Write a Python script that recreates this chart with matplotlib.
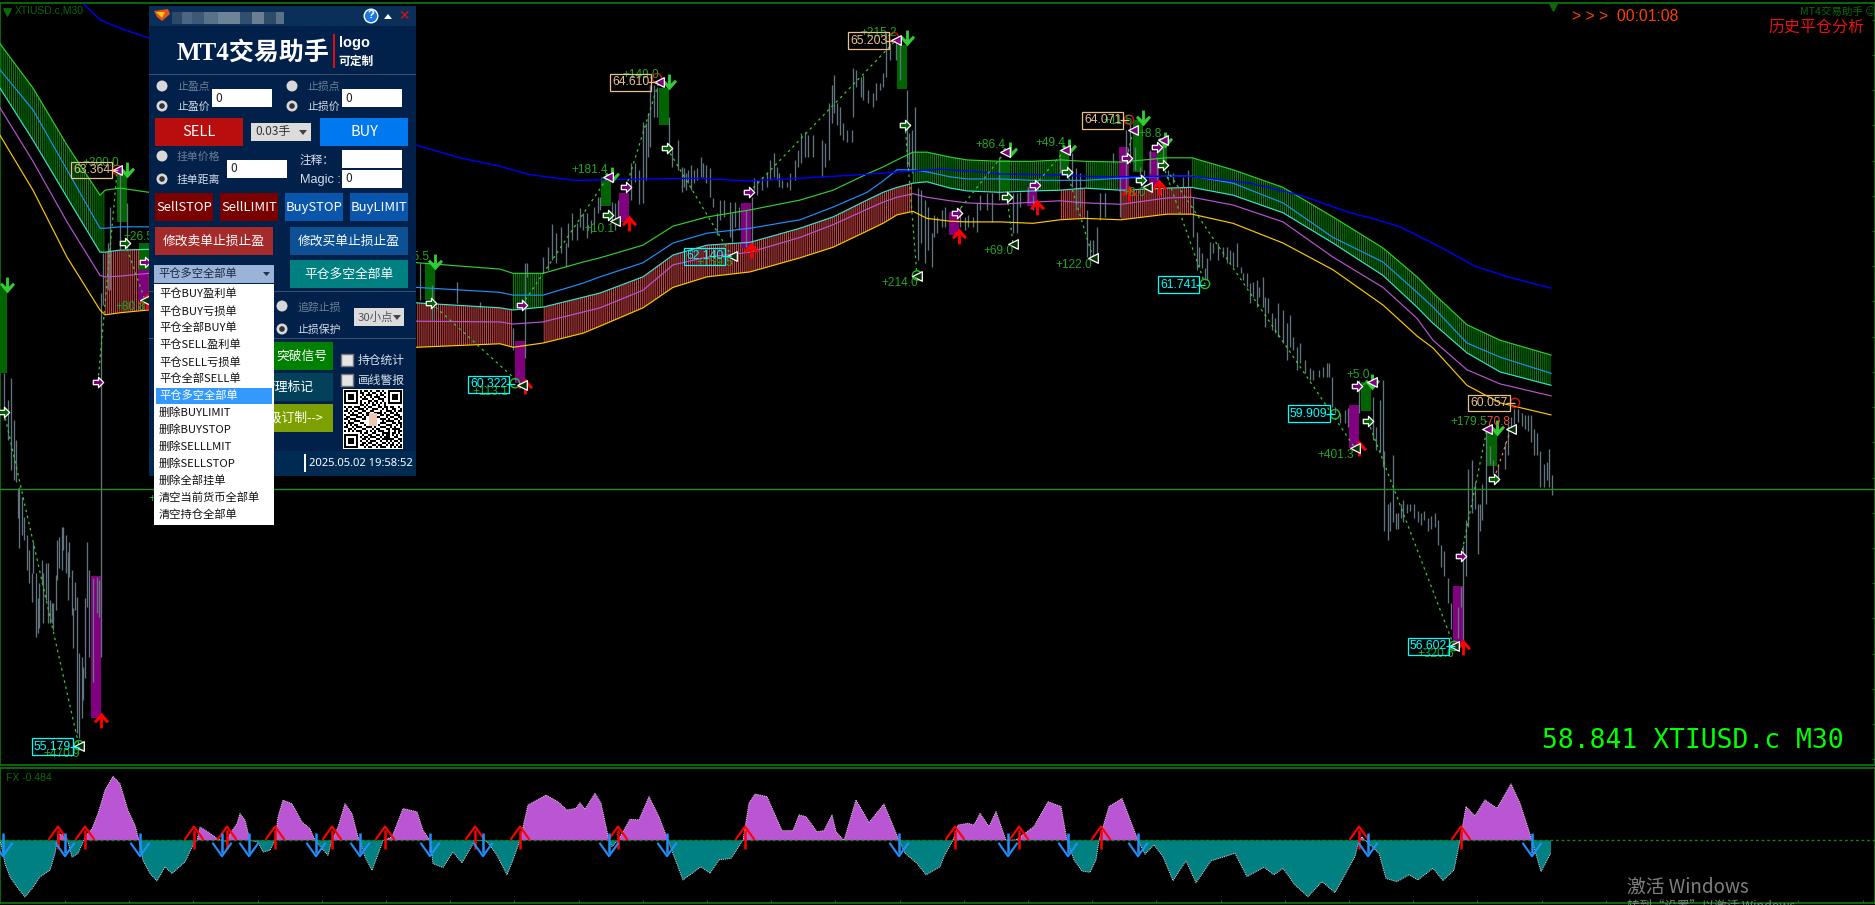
import numpy as np
import matplotlib
matplotlib.use("Agg")
import matplotlib.pyplot as plt
from matplotlib.patches import Rectangle, Circle, Polygon
from matplotlib.path import Path

plt.rcParams['font.family'] = ['Noto Sans CJK SC', 'DejaVu Sans']
plt.rcParams['hatch.linewidth'] = 0.8

# ---------- price bars (time scale = chart columns) ----------
bar_time = [4,8,11,14,16,18,19,22,24,27,
            29,32,33,36,38,39,42,43,46,48,
            50,52,53,56,57,59,62,63,66,68,
            69,72,73,75,77,79,82,83,85,87,
            89,93,97,99,101,103,108,110,120,127,
            420,432,457,480,513,525,527,
            543,548,552,556,561,566,568,572,577,580,
            583,587,591,594,598,600,612,615,618,631,
            635,639,643,646,648,650,654,657,669,672,
            678,682,684,686,688,691,694,697,701,703,
            706,710,713,717,720,724,730,732,735,739,
            746,752,754,757,762,767,770,774,777,779,
            782,787,790,795,798,801,805,808,813,822,
            825,829,832,834,837,840,843,847,852,853,
            856,861,863,868,873,876,880,883,886,890,
            896,900,907,909,912,915,918,921,925,928,
            932,934,937,942,945,960,965,968,973,977,
            980,987,992,999,1013,1017,1020,1028,1033,1060,
            1072,1076,1080,1087,1090,1093,1097,1100,1105,1113,
            1120,1126,1130,1135,1140,1144,1150,1157,1163,1168,
            1173,1183,1188,1193,1197,1199,1202,1205,1207,1210,
            1213,1218,1223,1227,1230,1233,1237,1241,1243,1247,
            1250,1253,1257,1259,1263,1265,1268,1272,1275,1278,
            1283,1287,1290,1293,1297,1300,1305,1310,1313,1319,
            1323,1327,1329,1332,1335,1340,1345,1348,1359,1373,
            1376,1380,1383,1384,1388,1390,1393,1396,1398,1401,
            1403,1407,1410,1414,1418,1421,1424,1428,1431,1435,
            1438,1441,1444,1448,1451,1458,1461,1463,1466,1468,
            1472,1475,1478,1480,1482,1486,1490,1493,1498,1505,
            1508,1511,1514,1518,1522,1525,1528,1531,1534,1537,
            1540,1544,1547,1549,1552]
bar_high = [60.48,60.10,60.41,59.82,59.53,58.85,58.86,58.72,58.44,58.18,
            57.97,57.64,58.08,57.64,57.29,57.50,57.83,57.64,57.79,57.78,
            57.26,57.22,57.22,57.62,58.11,58.15,58.30,58.30,58.18,57.94,
            58.08,57.69,57.15,57.52,57.30,56.51,56.45,56.31,57.29,58.08,
            57.69,57.57,57.59,57.54,61.62,62.19,62.33,62.84,63.34,62.90,
            62.05,61.73,61.78,61.49,61.12,62.05,62.05,
            62.13,62.27,62.60,62.47,62.56,62.33,62.61,62.76,62.61,62.83,
            62.76,62.76,62.66,62.84,62.98,62.98,62.91,62.90,62.94,63.47,
            63.47,63.37,64.05,64.03,64.18,64.57,64.57,64.54,64.12,63.69,
            63.79,63.41,63.39,63.32,63.37,63.44,63.37,63.39,63.55,63.47,
            63.44,63.39,62.97,62.76,62.94,62.94,62.91,62.76,62.91,62.84,
            62.80,62.98,63.25,63.22,63.27,63.32,63.51,63.61,63.41,63.32,
            63.22,63.20,63.32,63.51,63.65,63.89,63.91,63.86,63.86,63.79,
            63.75,64.32,64.57,64.72,64.32,64.26,64.03,63.93,63.93,64.81,
            64.79,64.69,64.72,64.50,64.46,64.60,64.60,64.74,65.31,65.17,
            65.17,65.17,64.50,63.89,63.93,64.26,63.11,63.08,62.94,62.84,
            62.47,62.73,62.70,62.80,62.84,62.84,62.70,62.73,62.70,62.90,
            63.01,63.04,63.04,63.55,63.04,63.04,63.05,63.12,63.01,63.55,
            63.61,63.39,63.32,62.80,62.37,62.37,62.56,63.04,63.04,63.61,
            63.27,63.93,64.03,63.69,63.41,63.37,63.65,63.55,63.72,63.37,
            63.32,63.27,63.37,62.98,62.49,62.27,62.19,61.97,62.12,62.34,
            62.33,62.33,62.27,62.27,62.23,62.20,62.33,61.99,61.90,61.90,
            61.76,61.78,61.80,61.70,61.85,61.56,61.55,61.34,61.26,61.48,
            61.38,61.19,61.31,61.00,60.85,60.91,60.67,60.55,60.53,60.53,
            60.57,60.63,60.63,60.43,60.00,59.92,59.96,59.99,60.38,60.14,
            59.72,60.10,60.38,59.38,58.62,58.65,59.32,58.50,58.50,58.62,
            58.68,58.62,58.62,58.62,58.52,58.50,58.52,58.42,58.45,58.50,
            58.40,58.04,57.96,57.57,57.22,57.16,57.45,58.04,58.40,59.12,
            59.25,58.94,58.62,58.62,58.91,59.69,59.45,59.25,59.19,59.50,
            59.76,59.86,59.97,59.97,59.92,59.89,59.89,59.89,59.69,59.63,
            59.38,59.19,59.22,59.40,59.03]
bar_low = [59.82,59.53,59.11,58.96,58.94,58.42,58.00,58.18,58.11,57.69,
           57.50,57.23,57.64,56.73,56.79,56.86,57.50,56.93,57.26,56.93,
           56.93,56.93,56.83,57.12,57.54,57.71,57.69,57.97,57.64,57.26,
           57.59,57.05,56.58,57.12,55.37,55.30,55.58,55.84,56.15,57.16,
           56.45,56.10,57.08,57.02,56.45,61.45,61.66,61.66,62.23,62.26,
           61.52,61.24,61.48,61.41,60.81,60.70,61.85,
           61.90,61.95,62.09,62.05,62.19,61.99,62.27,62.37,62.37,62.56,
           62.51,62.40,62.47,62.61,62.76,62.80,62.66,62.51,62.66,62.94,
           63.20,62.88,62.90,63.22,63.55,63.69,64.12,64.12,63.68,63.41,
           63.37,63.05,63.12,63.08,63.18,63.08,63.18,63.22,63.27,63.27,
           63.18,62.98,62.84,62.44,62.66,62.70,62.41,62.34,62.56,62.51,
           62.27,62.26,63.08,63.01,63.08,63.12,63.22,63.27,63.22,63.12,
           63.11,63.12,63.08,63.22,63.41,63.47,63.55,63.55,63.55,63.27,
           63.41,63.51,64.03,64.18,64.01,63.86,63.79,63.76,63.76,64.12,
           64.54,64.40,64.36,64.32,64.26,64.36,64.50,64.54,64.69,64.93,
           64.93,64.64,63.41,63.41,63.32,63.37,62.09,62.33,62.05,62.23,
           61.99,62.41,62.47,62.56,62.56,62.56,62.51,62.56,62.56,62.49,
           62.80,62.80,62.63,62.94,62.47,62.47,62.84,62.90,62.80,63.32,
           63.12,62.80,62.84,62.13,62.13,62.13,62.13,62.66,62.70,63.47,
           62.70,63.04,63.47,63.37,63.18,63.18,63.32,63.22,63.51,63.22,
           63.18,63.12,63.12,62.41,61.95,61.99,61.97,61.80,61.80,62.09,
           62.19,62.09,62.13,62.05,62.05,61.99,61.99,61.90,61.80,61.70,
           61.48,61.56,61.42,61.56,61.42,61.14,61.34,61.09,61.05,61.00,
           60.91,60.67,60.85,60.81,60.53,60.63,60.48,60.38,60.38,60.43,
           60.43,60.43,60.43,60.00,59.92,59.77,59.77,59.72,59.92,59.53,
           59.39,59.36,59.15,58.24,58.11,58.24,58.37,58.27,58.27,58.42,
           58.37,58.50,58.52,58.42,58.37,58.33,58.40,58.24,58.27,58.30,
           58.04,57.73,57.60,57.22,56.85,56.72,57.16,56.65,57.60,58.30,
           58.50,58.55,57.91,58.24,58.40,58.62,59.19,59.05,58.94,59.12,
           59.32,59.69,59.76,59.79,59.73,59.69,59.66,59.50,59.32,59.32,
           58.86,58.86,58.96,58.86,58.75]

# ---------- moving-average ribbon ----------
ma_time = [0,33,67,100,105,120,149,417,500,513,543,583,600,643,673,707,750,800,833,867,883,
           897,913,927,950,967,1000,1033,1060,1085,1121,1167,1192,1233,1283,1333,1383,1417,1433,1467,1500,1551]
ma_green = [65.16,64.53,63.72,63.01,63.08,63.11,63.05,62.05,61.96,61.90,61.90,62.06,62.12,62.30,62.57,62.70,62.80,62.94,63.08,63.31,63.41,
            63.51,63.62,63.62,63.55,63.51,63.49,63.49,63.51,63.49,63.48,63.54,63.54,63.37,63.12,62.70,62.26,61.85,61.62,61.17,60.95,60.74]
ma_azure = [64.79,64.22,63.37,62.54,62.54,62.56,62.56,61.70,61.63,61.59,61.59,61.76,61.85,62.05,62.33,62.47,62.54,62.66,62.84,63.05,63.21,
            63.37,63.37,63.34,63.27,63.24,63.24,63.22,63.22,63.22,63.25,63.28,63.28,63.18,62.90,62.41,62.06,61.63,61.42,60.91,60.71,60.48]
ma_cyan = [64.53,63.79,62.98,62.20,62.20,62.23,62.24,61.48,61.41,61.38,61.42,61.56,61.62,61.85,62.16,62.30,62.34,62.54,62.70,62.94,63.05,
           63.12,63.18,63.20,63.11,63.07,63.05,63.07,63.08,63.11,63.08,63.11,63.12,63.01,62.76,62.33,61.87,61.42,61.19,60.77,60.50,60.31]
ma_violet = [64.25,63.49,62.63,61.87,61.85,61.86,61.90,61.22,61.21,61.18,61.21,61.35,61.41,61.66,62.02,62.13,62.20,62.41,62.59,62.81,62.91,
             62.98,63.03,62.98,62.93,62.90,62.88,62.91,62.93,62.90,62.88,62.97,62.98,62.87,62.63,62.13,61.70,61.26,60.95,60.53,60.33,60.16]
ma_gold = [63.86,63.08,62.13,61.38,61.31,61.34,61.38,60.85,60.90,60.85,60.91,61.05,61.15,61.41,61.70,61.85,61.92,62.12,62.27,62.50,62.61,
           62.73,62.78,62.68,62.64,62.63,62.63,62.61,62.66,62.68,62.66,62.74,62.74,62.61,62.33,61.95,61.45,61.01,60.84,60.31,60.06,59.89]
slow_time = [84,100,120,149,416,460,500,530,575,650,700,745,800,860,900,940,980,1000,1050,1100,1190,1250,1300,1350,1375,1400,1442,1475,1508,1551]
slow_ma = [65.72,65.50,65.38,65.24,63.72,63.54,63.42,63.30,63.22,63.24,63.25,63.21,63.25,63.30,63.34,63.38,63.34,63.31,63.30,63.27,63.28,63.18,63.01,62.76,62.67,62.56,62.26,62.00,61.85,61.69]

# ribbon phases: start, end of the bullish and bearish stretches
bull_spans = [(0, 105), (513, 543), (913, 1060), (1085, 1121), (1192, 1551)]
bear_spans = [(105, 149), (417, 513), (543, 913), (1060, 1085), (1121, 1192)]

# ---------- signal candles ----------
sell_time = [96,143,520,624,746,954,1032,1124,1154,1354,1458]
sell_top = [57.60,61.96,60.94,63.04,62.90,62.77,63.12,63.69,63.62,60.03,57.46]
sell_bot = [55.58,61.52,60.34,62.63,62.26,62.44,62.85,63.05,63.14,59.42,56.59]
buy_time = [2,122,144,430,606,664,902,1005,1064,1138,1162,1366,1492]
buy_top = [61.70,63.34,62.33,62.05,63.27,64.53,65.14,63.51,63.65,64.08,63.72,60.36,59.67]
buy_bot = [60.48,62.63,61.95,61.52,62.85,64.00,64.52,63.08,63.32,63.34,63.48,59.94,59.16]

# ---------- closed trades ----------
trade_t0 = [4,98,125,431,522,626,667,749,905,957,1007,1035,1067,1127,1141,1157,1163,1170,1357,1368,1461]
trade_p0 = [59.93,60.36,62.33,61.48,61.45,63.12,63.68,63.05,64.01,62.76,62.99,63.15,63.34,63.54,63.22,63.69,63.44,63.30,60.30,59.80,57.88]
trade_t1 = [79,117,145,522,608,659,732,896,917,1005,1013,1065,1093,1133,1147,1163,1205,1355,1372,1454,1487]
trade_p1 = [55.19,63.34,61.52,60.31,63.27,64.62,62.14,65.21,61.86,63.62,62.32,63.65,62.12,63.93,63.12,63.78,61.75,59.42,60.36,56.61,59.69]
loss_t = [1494,1511]
loss_p = [58.98,59.69]

entry_sell_t = [98,145,522,626,749,957,1035,1127,1157,1357,1461]
entry_sell_p = [60.36,62.06,61.45,63.12,63.05,62.76,63.15,63.54,63.69,60.30,57.88]
entry_buy_t = [4,125,431,608,667,905,1007,1067,1141,1163,1368,1494]
entry_buy_p = [59.93,62.33,61.48,62.73,63.68,64.01,62.99,63.34,63.22,63.44,59.80,58.98]
exit_high_t = [117,608,659,896,1005,1065,1133,1163,1372,1487]
exit_high_p = [63.37,63.27,64.62,65.21,63.62,63.65,63.93,63.79,60.36,59.69]
exit_low_t = [79,145,522,732,917,1013,1093,1147,1355,1454,1511,615]
exit_low_p = [55.19,61.52,60.31,62.14,61.86,62.32,62.12,63.12,59.42,56.61,59.69,62.64]
ring_red_t = [117,657,894,1129,1515]
ring_red_p = [63.37,64.67,65.25,64.08,60.06]
ring_green_t = [79,515,917,1205,1335,1454]
ring_green_p = [55.20,60.34,61.87,61.75,59.90,56.61]
arrow_down_t = [7,127,435,612,669,907,1010,1069,1143,1165,1372,1497]
arrow_down_p = [61.73,63.37,62.06,63.30,64.62,65.24,63.65,63.69,64.10,63.79,60.36,59.70]
arrow_up_t = [101,147,525,629,751,959,1037,1129,1159,1359,1463]
arrow_up_p = [55.56,61.50,60.30,62.61,62.23,62.43,62.84,63.04,63.12,59.42,56.59]

# ---------- price labels ----------
high_label_t = [72,611,849,1083,1469]
high_label_p = [63.364,64.610,65.203,64.071,60.057]
low_label_t = [469,685,1159,1289,1409,33]
low_label_p = [60.322,62.140,61.741,59.909,56.602,55.179]

pl_text = ['+300.0','+26.5','+80.8','+25.5','+113.1','+181.4','+10.1','+149.0','+215.2','+86.4',
           '+159.5','+214.0','+69.0','+49.4','+122.0','+8.8','+8.0','+11.5','+5.0','+401.3',
           '+179.5','+320.6','+470.9','+56.2']
pl_time = [101,138,130,414,490,590,599,641,879,990,715,900,998,1050,1074,1150,1134,1118,1358,1336,1469,1436,62,163]
pl_price = [63.47,62.41,61.42,62.13,60.21,63.37,62.53,64.72,65.31,63.72,62.05,61.76,62.22,63.75,62.02,63.88,63.04,64.06,60.46,59.32,59.79,56.49,55.07,58.69]

last_price = 58.841

# ---------- FX oscillator ----------
fx_time = [0,2,5,10,17,25,32,40,50,55,57,58,65,68,72,78,83,85,92,98,105,113,120,128,135,139,143,150,157,165,172,185,193,197,
           200,208,217,222,227,230,237,240,245,250,258,263,270,275,278,283,292,302,310,315,322,328,332,338,345,352,358,360,365,372,
           382,383,392,403,417,423,430,433,443,453,462,472,475,486,490,497,507,513,519,520,528,546,558,567,576,580,585,595,601,609,612,618,
           624,630,639,649,659,668,683,701,710,719,731,743,749,755,767,782,793,799,806,817,824,832,836,844,856,869,884,899,905,
           917,926,940,944,953,958,968,974,980,989,996,1006,1016,1025,1034,1048,1061,1067,1074,1082,1090,1096,1099,1109,1122,
           1138,1145,1154,1163,1173,1186,1196,1211,1235,1247,1264,1274,1283,1295,1308,1322,1335,1355,1359,1362,1365,1379,1386,
           1397,1409,1418,1433,1443,1454,1460,1466,1475,1485,1497,1511,1520,1532,1541,1551]
fx_value = [0,-.33,-.92,-1.44,-1.84,-2.23,-1.90,-1.44,-1.18,-.52,-.07,.26,.20,-.07,-.66,-.52,-.07,.13,.46,1.05,1.97,2.52,2.23,1.18,.59,0,-.79,-1.31,-1.60,-1.05,-1.31,-.85,-.20,0,
            .52,.33,.07,0,-.05,.26,.66,1.05,.79,0,-.07,-.46,-.39,0,.92,1.58,1.44,.72,.46,0,-.33,-.59,0,.52,1.44,1.05,.13,0,-.66,-1.18,
            -.13,0,.13,1.25,1.12,.39,0,-.92,-1.07,-.46,-.89,-.20,0,-.02,-.20,-.59,-1.36,-.77,-.12,0,1.39,1.78,1.52,1.19,1.26,1.48,1.22,1.85,1.46,0,-.25,0,
            .41,.83,.80,1.72,.93,0,-1.56,-1.04,-1.30,-.77,-.71,0,1.46,1.82,1.72,.38,.38,1.00,.93,.34,.38,1.00,.34,0,1.59,.70,1.43,0,-.51,
            -.91,-1.36,-1.04,-.64,0,.60,.67,.60,1.06,.54,1.13,0,.02,.28,.54,1.52,1.33,0,-.77,-1.21,-1.26,-.77,0,1.33,1.65,
            0,-.55,-.18,-.64,-1.59,-.81,-1.67,-.81,-.51,-1.43,-1.06,-1.36,-1.10,-1.76,-2.22,-1.63,-2.06,-.64,0,.14,0,-.51,-1.50,
            -1.63,-1.36,-1.56,-1.10,-1.59,-1.17,0,1.33,.96,1.59,1.26,2.22,1.46,0,-1.23,-.49]
fx_up_t = [58,85,194,227,275,332,385,475,520,618,745,955,1019,1101,1359,1461]
fx_down_t = [3,65,140,222,249,316,360,430,483,609,667,899,1008,1068,1138,1368,1532]

# ---------- trade panel menu ----------
close_menu = ['平仓BUY盈利单','平仓BUY亏损单','平仓全部BUY单','平仓SELL盈利单','平仓SELL亏损单','平仓全部SELL单',
              '平仓多空全部单','删除BUYLIMIT','删除BUYSTOP','删除SELLLMIT','删除SELLSTOP','删除全部挂单',
              '清空当前货币全部单','清空持仓全部单']
qr_rows = ["11111110101101001101001111111","10000010110010110010101000001","10111010010111001011001011101",
           "10111010101001011100101011101","10111010011100100111001011101","10000010100011011001001000001",
           "11111110101010101010101111111","00000000110100110100100000000","10110111001011000110110110010",
           "01001001110100111001010011001","11010110011001100010011101011","00101001100110011110100110100",
           "10011110010111000011011001110","01100011101000011100010110011","11011100011000000011101001101",
           "00100111000000000001011110010","10111000110000000011100011011","01010110001000000100011100101",
           "11001011100111010011100101001","00110100011000101100011011110","10101011100101010111001001011",
           "00000000101100110001111011010","11111110010011001101011010101","10000010101101110010111001100",
           "10111010011010001101111110011","10111010100101110010010101101","10111010011011001001101010010",
           "10000010110100110110010110101","11111110001011001011100101011"]

# ============================================================
W, H = 1875, 905
fig = plt.figure(figsize=(W/100, H/100), dpi=100, facecolor='black')
FRAME = '#0b7a0b'
LAT = 'Liberation Sans'

def box(y0, y1, x0=0.0, x1=1.0):
    return [x0, 1-y1/H, x1-x0, (y1-y0)/H]

ax = fig.add_axes(box(3, 765), facecolor='black')
ax.set_xlim(0, W)
ax.set_ylim(54.919, 65.738)
sub = fig.add_axes(box(768, 903), facecolor='black')
sub.set_xlim(0, W)
sub.set_ylim(-2.468, 2.846)
for a in (ax, sub):
    for s in a.spines.values():
        s.set_color(FRAME)
        s.set_linewidth(1.2)
ax.set_xticks([])
ax.yaxis.tick_right()
ax.set_yticks(np.arange(55, 65.6, 0.5))
ax.tick_params(axis='y', direction='in', length=2, color=FRAME, labelright=False)
sub.set_yticks([])
sub.set_xticks(np.arange(65, W, 64.2))
sub.tick_params(axis='x', direction='in', length=2, color=FRAME, labelbottom=False)

t = np.array(ma_time, float)
g, a_, c, v, y = map(np.array, (ma_green, ma_azure, ma_cyan, ma_violet, ma_gold))
for x0, x1 in bull_spans:
    m = (t >= x0) & (t <= x1)
    ax.fill_between(t[m], g[m], c[m], facecolor='none', edgecolor='#008000', hatch='|'*8, linewidth=0, zorder=2)
for x0, x1 in bear_spans:
    m = (t >= x0) & (t <= x1)
    ax.fill_between(t[m], c[m], y[m], facecolor='none', edgecolor='#c84040', hatch='|'*8, linewidth=0, zorder=2)

ax.bar(sell_time, np.subtract(sell_top, sell_bot), bottom=sell_bot, width=10, color='#800080', zorder=3)
ax.bar(buy_time, np.subtract(buy_top, buy_bot), bottom=buy_bot, width=10, color='#006400', zorder=3)
ax.vlines(bar_time, bar_low, bar_high, color='#62757e', lw=0.95, zorder=4)

for series, col in ((ma_green, '#32cd32'), (ma_azure, '#1e90ff'), (ma_cyan, '#40e0d0'),
                    (ma_violet, '#ba55d3'), (ma_gold, '#ffc800')):
    ax.plot(ma_time, series, color=col, lw=0.85, zorder=5)
ax.plot(slow_time, slow_ma, color='#0000ff', lw=1.0, zorder=5)
ax.axhline(last_price, color='#1f8f1f', lw=1.0, zorder=5)

for x0, p0, x1, p1 in zip(trade_t0, trade_p0, trade_t1, trade_p1):
    ax.plot([x0, x1], [p0, p1], color='#32cd32', lw=0.9, ls=(0, (2, 3)), zorder=6)
ax.plot(loss_t, loss_p, color='#ff7050', lw=0.9, ls=(0, (2, 3)), zorder=6)

block = Path([(-1, -.42), (0, -.42), (0, -1), (1, 0), (0, 1), (0, .42), (-1, .42), (-1, -.42)], closed=True)
down = Path([(-.18, 1), (.18, 1), (.18, -.15), (.7, .35), (.95, .1), (0, -1), (-.95, .1), (-.7, .35), (-.18, -.15), (-.18, 1)], closed=True)
up = Path([(-.18, -1), (.18, -1), (.18, .15), (.7, -.35), (.95, -.1), (0, 1), (-.95, -.1), (-.7, -.35), (-.18, .15), (-.18, -1)], closed=True)
ax.scatter(arrow_down_t, arrow_down_p, marker=down, s=130, color='#32cd32', linewidths=0, zorder=7)
ax.scatter(arrow_up_t, arrow_up_p, marker=up, s=130, color='#ff0000', linewidths=0, zorder=7)
ax.scatter(ring_red_t, ring_red_p, marker='o', s=45, facecolor='none', edgecolor='#d01010', linewidths=1, zorder=7)
ax.scatter(ring_green_t, ring_green_p, marker='o', s=45, facecolor='none', edgecolor='#22c022', linewidths=1, zorder=7)
ax.scatter(entry_sell_t, entry_sell_p, marker=block, s=56, facecolor='#800080', edgecolor='white', linewidths=0.9, zorder=8)
ax.scatter(entry_buy_t, entry_buy_p, marker=block, s=56, facecolor='#006400', edgecolor='white', linewidths=0.9, zorder=8)
ax.scatter(exit_high_t, exit_high_p, marker='<', s=48, facecolor='#800080', edgecolor='white', linewidths=0.9, zorder=8)
ax.scatter(exit_low_t, exit_low_p, marker='<', s=48, facecolor='#053305', edgecolor='white', linewidths=0.9, zorder=8)

for txt, tx, py in zip(pl_text, pl_time, pl_price):
    ax.text(tx, py, txt, color='#23a523', fontsize=8.6, family=LAT, ha='center', va='center', zorder=9)
ax.text(1497, 59.79, '-70.8', color='#e8503a', fontsize=8.6, family=LAT, ha='center', va='center', zorder=9)
for ts, ps, col in ((high_label_t, high_label_p, '#e8c090'), (low_label_t, low_label_p, '#00ffff')):
    for tx, py in zip(ts, ps):
        ax.text(tx + 1, py, f'{py:.3f}', color=col, fontsize=8.8, family=LAT, ha='left', va='center', zorder=10,
                bbox=dict(fc='none', ec=col, lw=0.9, pad=1.6))
    ax.hlines(ps, np.add(ts, 37), np.add(ts, 46), color=col, lw=0.9, zorder=9)

ax.text(15, 65.63, 'XTIUSD.c,M30', color='#0a6a0a', fontsize=7.5, family=LAT, va='center', zorder=10)
ax.scatter([7], [65.61], marker='v', s=28, color='#0a6a0a', zorder=10)
ax.scatter([1553], [65.7], marker='v', s=45, color='#0a6a0a', zorder=10)
ax.text(1572, 65.54, '> > >  00:01:08', color='#ff4000', fontsize=11.3, family=LAT, va='center', zorder=10)
ax.text(1768, 65.40, '历史平仓分析', color='#e81010', fontsize=11.5, fontweight='light', va='center', zorder=10)
ax.text(1800, 65.61, 'MT4交易助手 ☺', color='#0a6a0a', fontsize=7.6, va='center', zorder=10,
        family=['Noto Sans CJK SC', 'DejaVu Sans'])
ax.text(1542, 55.26, '58.841 XTIUSD.c M30', color='#00ff00', fontsize=19, family='DejaVu Sans Mono',
        va='center', zorder=10)

# oscillator
sub.fill_between(fx_time, fx_value, 0, where=np.array(fx_value) >= 0, interpolate=True, color='#ba55d3', linewidth=0, zorder=2)
sub.fill_between(fx_time, fx_value, 0, where=np.array(fx_value) <= 0, interpolate=True, color='#008080', linewidth=0, zorder=2)
sub.plot(fx_time, fx_value, color='#f5d5e5', lw=0.7, ls=(0, (1, 1)), zorder=3)
sub.axhline(0, color='#0a8a0a', lw=1, ls=(0, (2, 2)), zorder=3)
chev_up = Path([(-1, -.7), (0, .7), (1, -.7)], [Path.MOVETO, Path.LINETO, Path.LINETO])
chev_dn = Path([(-1, .7), (0, -.7), (1, .7)], [Path.MOVETO, Path.LINETO, Path.LINETO])
sub.vlines(fx_up_t, -0.33, 0.42, color='#ff0000', lw=1.8, zorder=5)
sub.scatter(fx_up_t, [0.28]*len(fx_up_t), marker=chev_up, s=190, facecolor='none', edgecolor='#ff0000', linewidths=1.5, zorder=5)
sub.vlines(fx_down_t, -0.5, 0.28, color='#1e90ff', lw=1.8, zorder=5)
sub.scatter(fx_down_t, [-0.36]*len(fx_down_t), marker=chev_dn, s=190, facecolor='none', edgecolor='#1e90ff', linewidths=1.5, zorder=5)
sub.text(6, 2.45, 'FX -0.484', color='#0a6a0a', fontsize=7.5, family=LAT, va='center')
sub.text(1627, -1.83, '激活 Windows', color='#808080', fontsize=13.5, va='center', zorder=6)

# ============ trade panel overlay ============
ui = fig.add_axes([0, 0, 1, 1], facecolor='none', zorder=20)
ui.set_xlim(0, W)
ui.set_ylim(H, 0)
ui.axis('off')

def rect(x0, y0, x1, y1, col, z=1, **kw):
    ui.add_patch(Rectangle((x0, y0), x1-x0, y1-y0, facecolor=col, linewidth=kw.pop('lw', 0), zorder=z, **kw))

def label(x, yy, s, col='white', size=7.8, ha='left', z=4, **kw):
    ui.text(x, yy, s, color=col, fontsize=size, ha=ha, va='center', zorder=z, **kw)

def button(x0, y0, x1, y1, col, s, size=10, **kw):
    rect(x0, y0, x1, y1, col, z=2, **kw)
    label((x0+x1)/2, (y0+y1)/2, s, 'white', size, ha='center', z=3)

def radio(x, yy, on=False):
    ui.add_patch(Circle((x, yy), 5.5, facecolor='#d8d8d8', linewidth=0, zorder=3))
    if on:
        ui.add_patch(Circle((x, yy), 2.8, facecolor='#333333', linewidth=0, zorder=4))

def entry(x0, y0, x1, y1, s=''):
    rect(x0, y0, x1, y1, 'white', z=3)
    label(x0+3, (y0+y1)/2, s, '#222222', 8.6)

NAVY = '#01214a'
GRAY = '#6f8296'
LIGHT = '#d8dfe8'
rect(149, 6, 416, 476, NAVY)
rect(149, 6, 416, 26, '#0a2f58', z=1.5)
rect(149, 451, 416, 476, '#012a52', z=1.5)
for yy in (74, 291, 338):
    rect(149, yy, 416, yy+1, '#3a5068', z=1.5)

# title bar
ui.add_patch(Polygon([[154, 11], [168, 9], [170, 14], [162, 21], [157, 17]], facecolor='#e8501a', linewidth=0, zorder=3))
ui.add_patch(Polygon([[156, 12], [165, 12], [162, 18]], facecolor='#f5c518', linewidth=0, zorder=4))
for x0, x1, col in ((172, 182, '#2c4a68'), (182, 192, '#4a6680'), (192, 204, '#3c5a76'), (204, 218, '#5a7288'),
                    (218, 240, '#6e8396'), (240, 252, '#32506e'), (252, 264, '#6a7f92'), (264, 276, '#2e4c6a'), (276, 284, '#5a7288')):
    rect(x0, 12, x1, 24, col, z=2)
ui.add_patch(Circle((371, 16), 6.8, facecolor='#1878e8', edgecolor='white', linewidth=1, zorder=3))
label(371, 15.5, '?', 'white', 8, ha='center', fontweight='bold', family=LAT)
ui.add_patch(Polygon([[384, 19], [392, 19], [388, 14]], facecolor='white', linewidth=0, zorder=3))
label(404, 16, '✕', '#e01010', 10, ha='center', family='DejaVu Sans', fontweight='bold')

# logo
label(177, 53, 'MT4交易助手', 'white', 18, family=['Liberation Serif', 'Noto Sans CJK SC'], fontweight='bold')
rect(333, 34, 335, 68, '#e01010', z=3)
label(339, 43, 'logo', 'white', 10.5, fontweight='bold', family=LAT)
label(338, 61.5, '可定制', 'white', 8.5, fontweight='bold')

# stop settings
radio(162, 86); label(177, 87, '止盈点', GRAY)
radio(162, 106, True); label(177, 107, '止盈价', LIGHT)
entry(212, 89, 272, 107, '0')
radio(292, 86); label(307, 87, '止损点', GRAY)
radio(292, 106, True); label(307, 107, '止损价', LIGHT)
entry(342, 89, 402, 107, '0')

button(155, 118, 243, 146, '#b90e0e', 'SELL', 10.5)
button(320, 118, 408, 146, '#0078ef', 'BUY', 10.5)
rect(251, 123, 311, 141, '#dcdcdc', z=2)
label(255, 132, '0.03手', '#333333', 8.6)
ui.add_patch(Polygon([[299, 130], [307, 130], [303, 135]], facecolor='#444444', linewidth=0, zorder=4))

radio(162, 156); label(177, 157, '挂单价格', GRAY)
radio(162, 179, True); label(177, 180, '挂单距离', LIGHT)
entry(227, 160, 287, 178, '0')
label(300, 160, '注释：', LIGHT, 8.4)
label(300, 180, 'Magic :', LIGHT, family=LAT, size=9.2)
entry(342, 150, 402, 168)
entry(342, 170, 402, 188, '0')

button(155, 193, 213, 221, '#7a0000', 'SellSTOP', 9.4)
button(220, 193, 278, 221, '#7a0000', 'SellLIMIT', 9.4)
button(285, 193, 343, 221, '#0a56ad', 'BuySTOP', 9.4)
button(350, 193, 408, 221, '#0a56ad', 'BuyLIMIT', 9.4)
button(155, 227, 273, 255, '#a52a2a', '修改卖单止损止盈', 9.2)
button(290, 227, 408, 255, '#0d5094', '修改买单止损止盈', 9.2)
button(290, 260, 408, 288, '#008080', '平仓多空全部单', 9.2)

radio(282, 306); label(297, 307, '追踪止损', GRAY)
radio(282, 329, True); label(297, 330, '止损保护', LIGHT)
rect(354, 308, 404, 326, '#dcdcdc', z=2)
label(358, 317, '30小点', '#555555', 8.2)
ui.add_patch(Polygon([[393, 315], [401, 315], [397, 320]], facecolor='#444444', linewidth=0, zorder=4))

rect(155, 342, 333, 370, '#008000', z=2)
label(327, 356, '突破信号', 'white', 9.2, ha='right')
rect(155, 373, 333, 401, '#03405a', z=2)
label(314, 387, '清理标记', 'white', 9.2, ha='right')
rect(155, 404, 333, 432, '#7ba000', z=2)
label(323, 418, '高级订制-->', 'white', 9.2, ha='right')

for yy, s in ((360, '持仓统计'), (380, '画线警报')):
    rect(341, yy-6, 353, yy+6, '#e4e4e4', z=3, edgecolor='#777777', lw=1)
    label(358, yy, s, LIGHT, 8.5)

qr = np.array([[int(ch) for ch in r.ljust(29, '0')[:29]] for r in qr_rows])
rect(343, 389, 403, 449, 'white', z=3)
ui.imshow(1-qr, cmap='gray', extent=(344, 402, 448, 390), interpolation='nearest', aspect='auto', zorder=4)
ui.set_xlim(0, W)
ui.set_ylim(H, 0)
rect(369, 413, 377, 426, '#eec4b4', z=5)

# status bar
rect(304, 454, 306, 472, 'white', z=3)
label(309, 463, '2025.05.02 19:58:52', 'white', 8.1, family=['Noto Sans', 'DejaVu Sans'])

# combo and its open list
rect(154, 265, 274, 283, '#9ab3d9', z=6)
label(158, 274, '平仓多空全部单', '#1a2a40', 8.1, z=7)
ui.add_patch(Polygon([[263, 272], [270, 272], [266.5, 276]], facecolor='#22344c', linewidth=0, zorder=7))
rect(154, 284, 274, 525, 'white', z=6)
for i, item in enumerate(close_menu):
    yy = 294 + i * 17
    if i == 6:
        rect(156, yy-8, 272, yy+8, '#3399ff', z=7)
    label(159, yy, item, 'white' if i == 6 else '#111111', 8.1, z=8)

# activation notice, cut by the screen edge
label(1627, 906, '转到“设置”以激活 Windows。', '#808080', 9)

fig.savefig('out.png', dpi=100, facecolor='black')
